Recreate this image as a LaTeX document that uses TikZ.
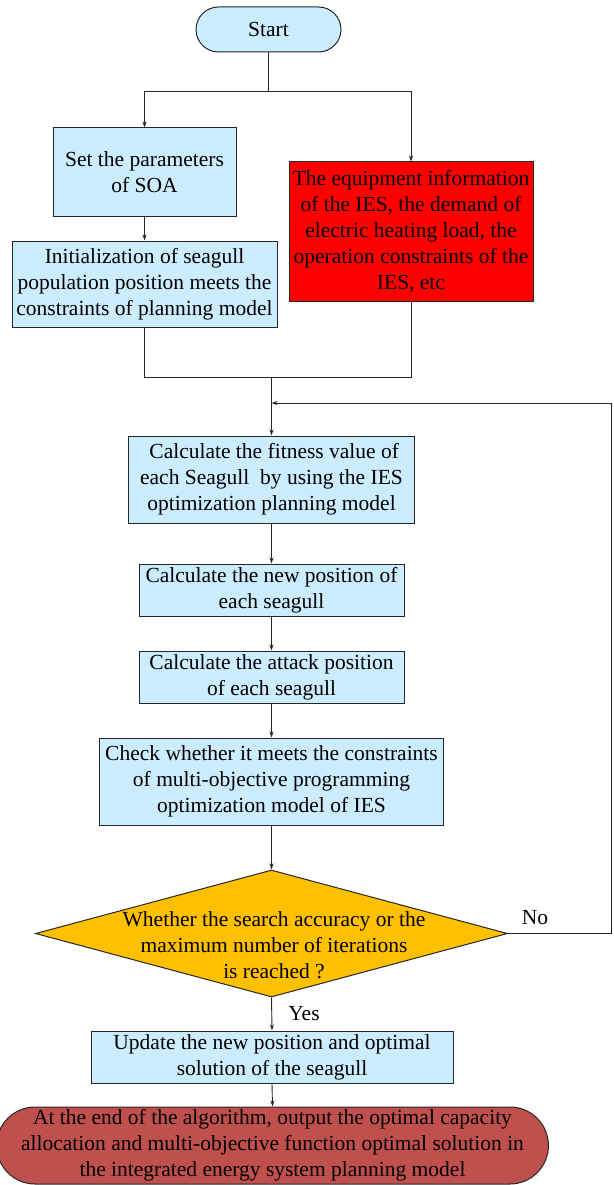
\documentclass[tikz,border=0pt]{standalone}
\usepackage{fontspec}
\setmainfont{Liberation Serif}
\usetikzlibrary{shapes.geometric,shapes.misc,arrows.meta}
\definecolor{boxblue}{HTML}{CCECFF}
\definecolor{boxred}{HTML}{FF0000}
\definecolor{decor}{HTML}{FFC000}
\definecolor{endred}{HTML}{C0504D}
\tikzset{
  base/.style={draw=black!85, line width=1pt, align=center, inner sep=0pt,
    font=\fontsize{21.5}{26}\selectfont},
  procbox/.style={base, rectangle, fill=boxblue},
  redbox/.style={base, rectangle, fill=boxred},
  termbox/.style={base, rounded rectangle, fill=boxblue},
  endbox/.style={base, rounded rectangle, fill=endred},
  decbox/.style={base, diamond, fill=decor},
  conn/.style={line width=0.9pt, draw=black!85},
  arr/.style={conn, -{Stealth[length=6pt,width=4pt]}},
  lbl/.style={font=\fontsize{21.5}{26}\selectfont, inner sep=0pt}
}
\begin{document}
\begin{tikzpicture}[x=1pt,y=-1pt]
\useasboundingbox (0,0) rectangle (613,1185);
% nodes
\node[termbox, minimum width=145pt, minimum height=45pt] (start) at (268.5,29.5) {Start};
\node[procbox, minimum width=183pt, minimum height=88pt] (set) at (144.5,172) {Set the parameters\\of SOA};
\node[redbox, minimum width=244pt, minimum height=139pt] (red) at (411,231.5) {The equipment information\\of the IES, the demand of\\electric heating load, the\\operation constraints of the\\IES, etc};
\node[procbox, minimum width=265pt, minimum height=86pt] (init) at (144.5,284) {Initialization of seagull\\population position meets the\\constraints of planning model};
\node[procbox, minimum width=286pt, minimum height=87pt] (fit) at (271.5,479.5) {\ Calculate the fitness value of\\each Seagull\ \ by using the IES\\optimization planning model};
\node[procbox, minimum width=265pt, minimum height=52pt] (newpos) at (271.5,590) {Calculate the new position of\\each seagull};
\node[procbox, minimum width=265pt, minimum height=52pt] (attack) at (271.5,677) {Calculate the attack position\\of each seagull};
\node[procbox, minimum width=344pt, minimum height=87pt] (check) at (271.5,781.5) {Check whether it meets the constraints\\of multi-objective programming\\optimization model of IES};
\node[decbox, minimum width=472pt, minimum height=127pt] (dec) at (271.5,933.5) {};
\node[lbl, align=center] (dectext) at (274,945) {Whether the search accuracy or the\\maximum number of iterations\\is reached ?};
\node[procbox, minimum width=362pt, minimum height=52pt] (upd) at (272,1057) {Update the new position and optimal\\solution of the seagull};
\node[endbox, minimum width=513pt, minimum height=77pt] (fin) at (272.5,1145.5) {At the end of the algorithm, output the optimal capacity\\allocation and multi-objective function optimal solution in\\the integrated energy system planning model};
\node[lbl] (no) at (535,918) {No};
\node[lbl] (yes) at (304,1014) {Yes};
% helper coordinates
\coordinate (split) at (268.5,91);
\coordinate (join) at (271.5,377);
\coordinate (loopin) at (271.5,403);
\coordinate (loopcorner) at (611,403);
% connectors
\draw[conn] (start.south) -- (split);
\draw[arr] (split) -| (set.north);
\draw[arr] (split) -| (red.north);
\draw[arr] (set.south) -- (init.north);
\draw[conn] (init.south) |- (join);
\draw[conn] (red.south) |- (join);
\draw[arr] (join) -- (fit.north);
\draw[arr] (fit.south) -- (newpos.north);
\draw[arr] (newpos.south) -- (attack.north);
\draw[arr] (attack.south) -- (check.north);
\draw[arr] (check.south) -- (dec.north);
\draw[conn] (dec.east) -| (loopcorner);
\draw[arr] (loopcorner) -- (loopin);
\draw[arr] (dec.south) -- (upd.north);
\draw[arr] (upd.south) -- (fin.north);
\end{tikzpicture}
\end{document}
